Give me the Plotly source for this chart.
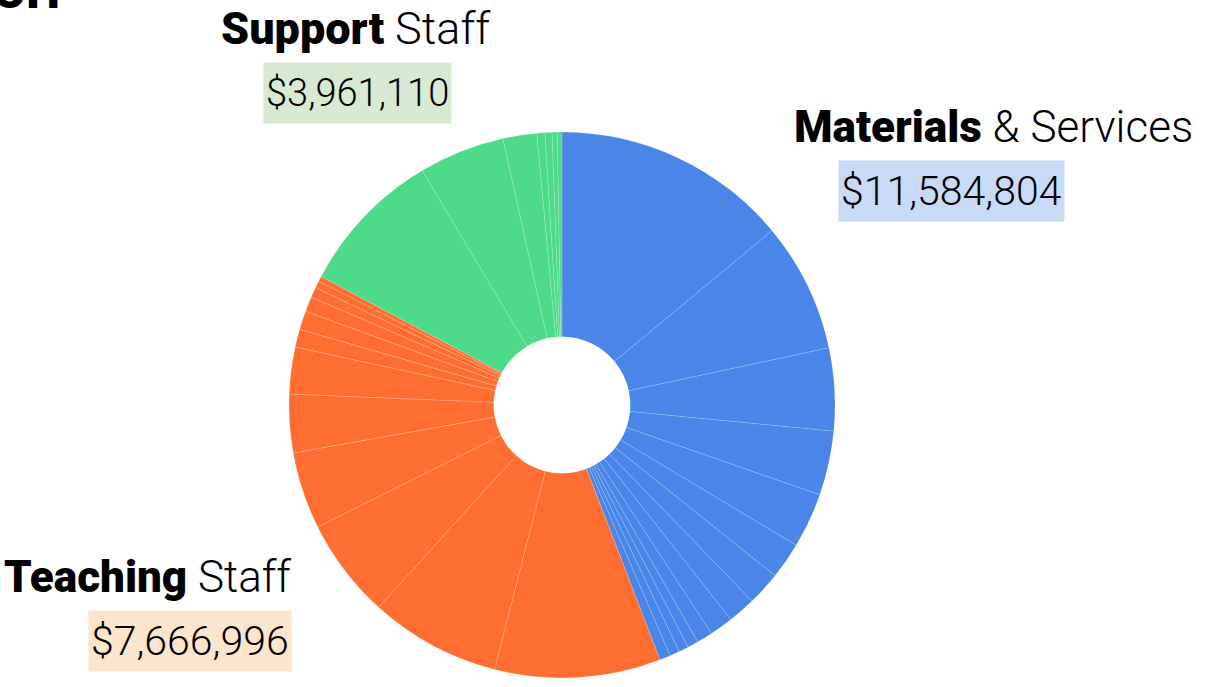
import plotly.graph_objects as go

# slice values (dollars)
materials = [3243000, 1780000, 1135000, 883000, 754000, 503000, 464000,
             380000, 322000, 219000, 148000, 135000, 135000, 148000]
teaching = [2276000, 1799000, 1373000, 1057000, 800000, 645000,
            245000, 258000, 206000, 142000, 97000, 71000]
support = [2005000, 1180000, 464000, 110000, 97000, 71000, 64000]

group_names = ["Materials", "Teaching", "Support"]
group_rest = ["& Services", "Staff", "Staff"]
group_totals = ["$11,584,804", "$7,666,996", "$3,961,110"]

BLUE = "#4a86e8"
ORANGE = "#ff6d31"
GREEN = "#4ddb8a"

W, H = 1205, 687
FONT = "Roboto, Lato, sans-serif"

values = materials + teaching + support
labels = ([f"Materials {i+1}" for i in range(len(materials))]
          + [f"Teaching {i+1}" for i in range(len(teaching))]
          + [f"Support {i+1}" for i in range(len(support))])
colors = [BLUE] * len(materials) + [ORANGE] * len(teaching) + [GREEN] * len(support)

# pie centre / radius in px
cx, cy, R = 562, 405, 273

fig = go.Figure(go.Pie(
    labels=labels,
    values=values,
    sort=False,
    direction="clockwise",
    rotation=0,
    hole=0.25,
    textinfo="none",
    hoverinfo="label+value",
    marker=dict(colors=colors, line=dict(color="rgba(255,255,255,0.25)", width=0.6)),
    domain=dict(x=[(cx - R) / W, (cx + R) / W], y=[1 - (cy + R) / H, 1 - (cy - R) / H]),
    showlegend=False,
))


def px(x, y):
    return x / W, 1 - y / H


def heading(name, rest, x, y, anchor, size=44):
    ax, ay = px(x, y)
    text = f"<span style='font-weight:900'>{name}</span> {rest}"
    fig.add_annotation(x=ax, y=ay, xref="paper", yref="paper", xanchor=anchor, yanchor="middle",
                       text=text, showarrow=False,
                       font=dict(family=FONT, size=size, color="black", weight=300))


def value(text, x, y, anchor, bg, size=41):
    ax, ay = px(x, y)
    fig.add_annotation(x=ax, y=ay, xref="paper", yref="paper", xanchor=anchor, yanchor="middle",
                       text=text, showarrow=False, bgcolor=bg, borderpad=2, height=56,
                       font=dict(family=FONT, size=size, color="black", weight=300))


heading(group_names[0], group_rest[0], 792, 127, "left")
value(group_totals[0], 838, 191, "left", "#c9daf8")

heading(group_names[1], group_rest[1], 293, 577, "right")
value(group_totals[1], 292, 641, "right", "#fce5cd")

heading(group_names[2], group_rest[2], 356, 29, "center", size=45)
value(group_totals[2], 357, 93, "center", "#d9ead3", size=38)

# title, mostly cut off at the top edge
ax, ay = px(-9, 22)
fig.add_annotation(x=ax, y=ay, xref="paper", yref="paper", xanchor="left", yanchor="bottom",
                   text="<span style='font-weight:900'>OH</span>", showarrow=False,
                   font=dict(family=FONT, size=48, color="black"))

fig.update_layout(
    width=W, height=H,
    margin=dict(l=0, r=0, t=0, b=0),
    paper_bgcolor="white",
    plot_bgcolor="white",
)

# drop the default page margin so the figure sits in the window corner
fig.write_html("out.html", config={"displayModeBar": False},
               post_script="document.body.style.margin='0';")
